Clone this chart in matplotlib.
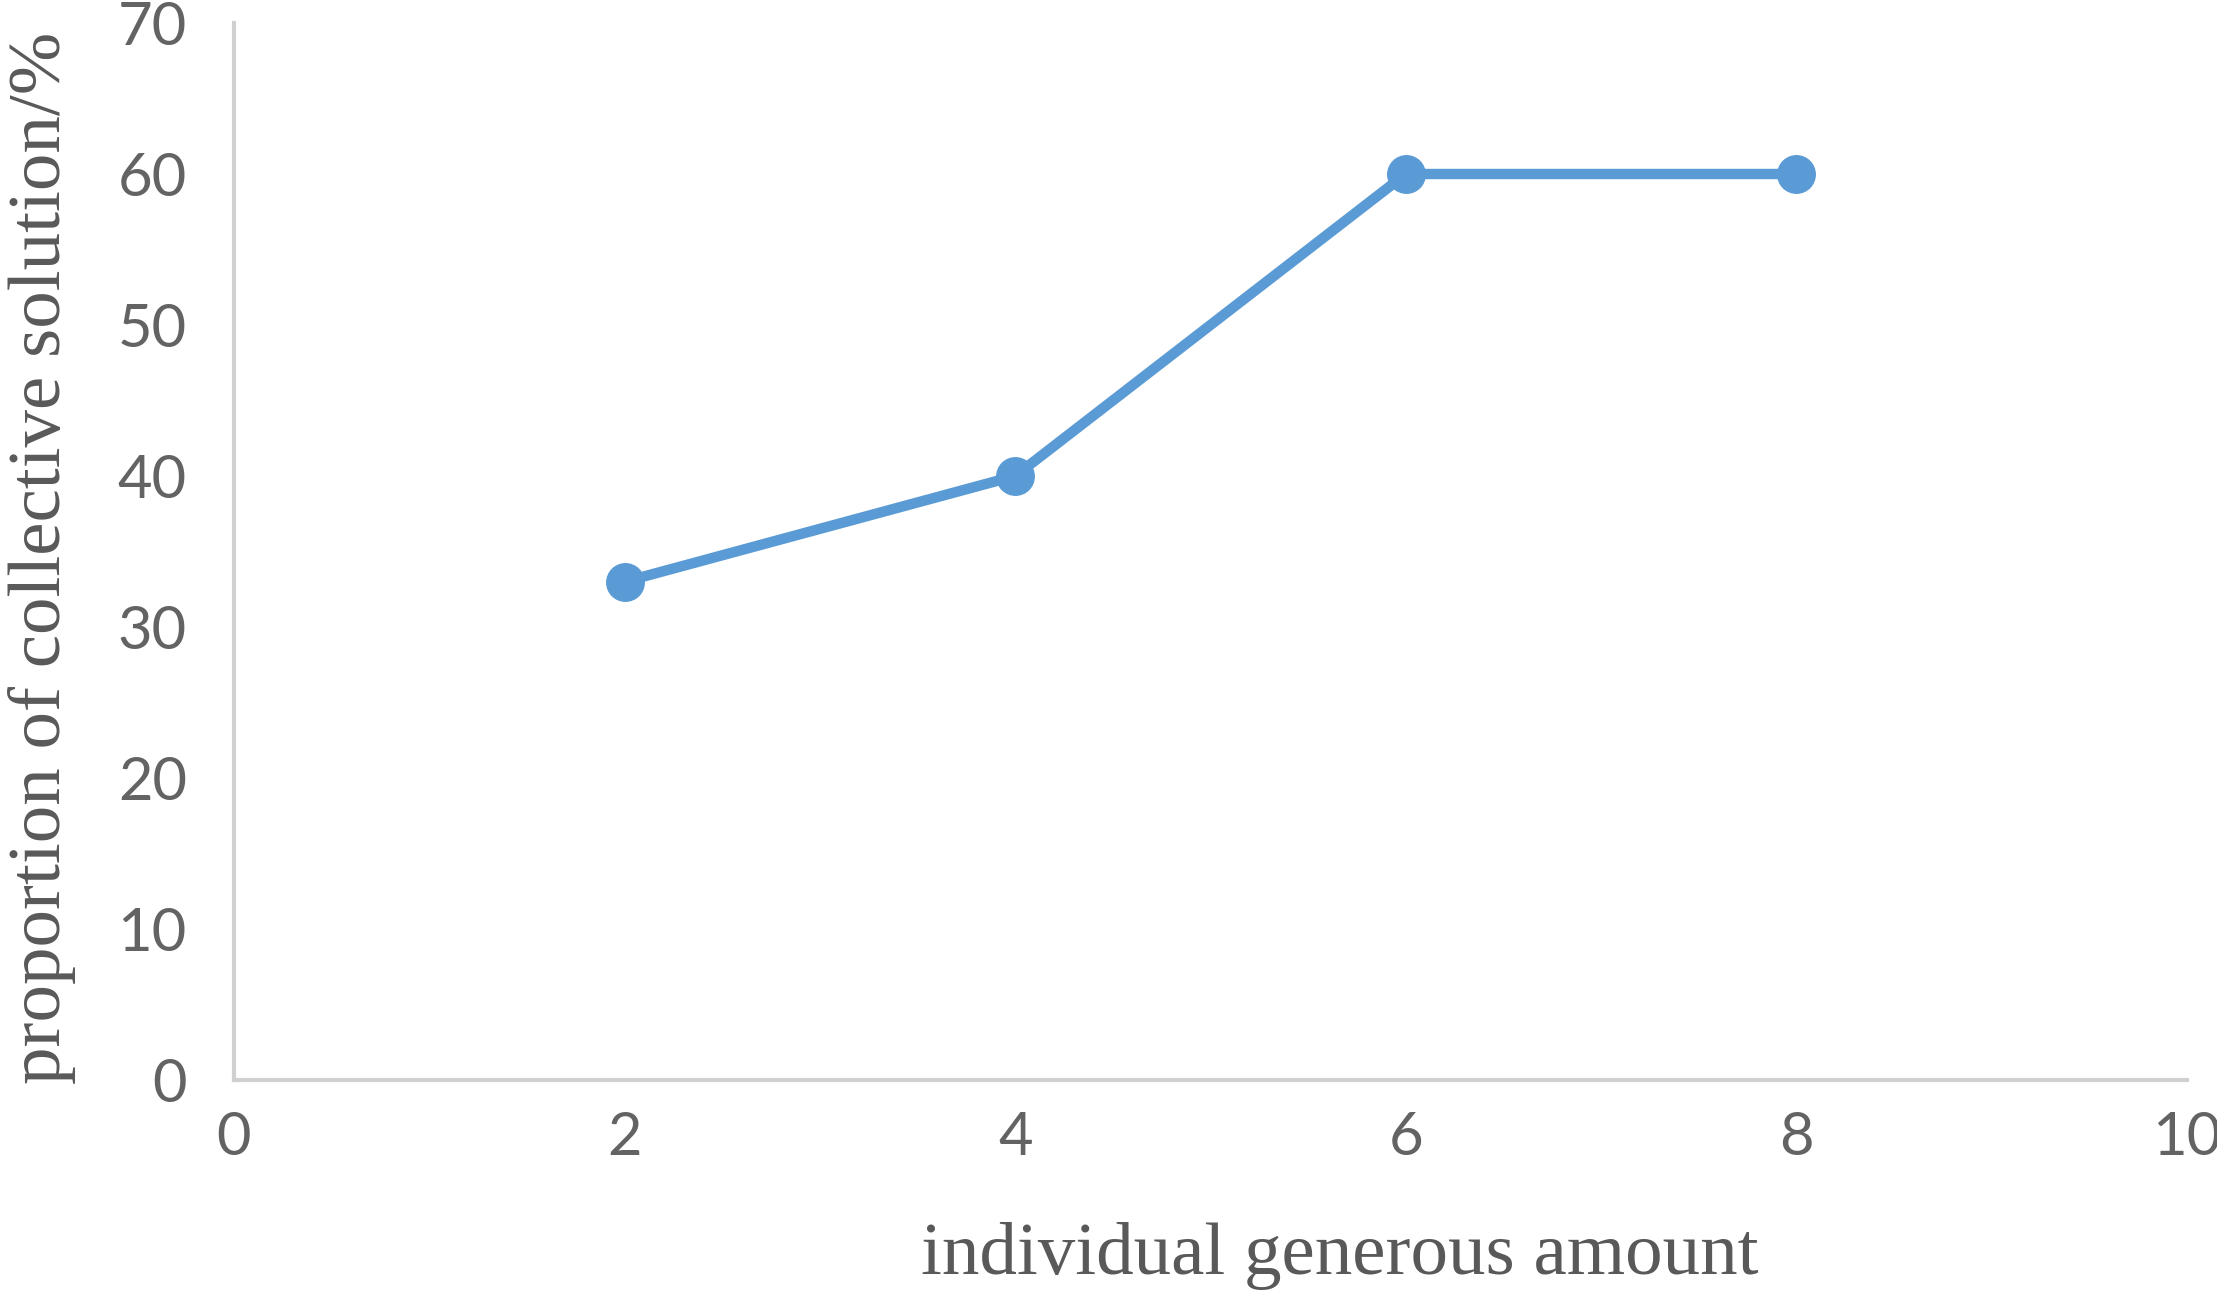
import matplotlib
matplotlib.use('Agg')
from matplotlib import pyplot as plt

# data
x_vals = [2, 4, 6, 8]
y_vals = [33, 40, 60, 60]
x_ticks = [0, 2, 4, 6, 8, 10]
y_ticks = [0, 10, 20, 30, 40, 50, 60, 70]

W, H = 2217, 1304
fig = plt.figure(figsize=(W / 100, H / 100), dpi=100)
ax = fig.add_axes([234 / W, 1 - 1080 / H, (2187 - 234) / W, (1080 - 23) / H])

ax.plot(x_vals, y_vals, color='#5B9BD5', lw=7.5, marker='o', ms=27,
        solid_capstyle='round', solid_joinstyle='round', clip_on=False)

ax.set_xlim(0, 10)
ax.set_ylim(0, 70)
ax.set_xticks(x_ticks)
ax.set_yticks(y_ticks)

for s in ['top', 'right']:
    ax.spines[s].set_visible(False)
for s in ['left', 'bottom']:
    ax.spines[s].set_color('#D0D0D0')
    ax.spines[s].set_linewidth(3)

ax.tick_params(length=0, labelsize=43, labelcolor='#636363', pad=34)
ax.tick_params(axis='x', pad=22)
for lab in ax.get_xticklabels() + ax.get_yticklabels():
    lab.set_family(['Lato', 'DejaVu Sans'])

fig.text((923 + 1757) / 2 / W, 1 - 1256 / H, 'individual generous amount',
         ha='center', va='center', fontsize=54, color='#595959',
         family=['Liberation Serif', 'DejaVu Serif'])
fig.text(42 / W, 1 - 558 / H, 'proportion of collective solution/%',
         ha='center', va='center', rotation=90, fontsize=54, color='#595959',
         family=['Liberation Serif', 'DejaVu Serif'])

fig.savefig('out.png', dpi=100)
